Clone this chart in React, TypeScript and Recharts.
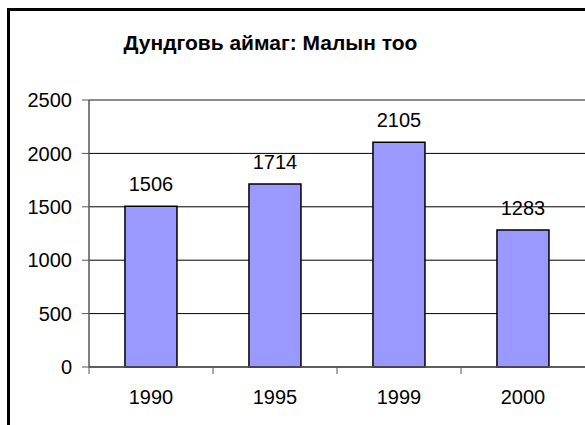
import React from 'react';
import { BarChart, Bar, XAxis, YAxis, CartesianGrid, LabelList, ReferenceLine } from 'recharts';

const categories = ['1990', '1995', '1999', '2000'];
const values = [1506, 1714, 2105, 1283];
const yTicks = [0, 500, 1000, 1500, 2000, 2500];
const title = 'Дундговь аймаг: Малын тоо';

const data = categories.map((c, i) => ({ year: c, value: values[i] }));

const FONT = 'Arial, "Liberation Sans", sans-serif';

const XTick = (props: any) => {
  const { x, y, payload, width, visibleTicksCount } = props;
  let half = payload && typeof payload.offset === 'number' && payload.offset > 0 ? payload.offset : 0;
  if (!half && width && visibleTicksCount) half = width / visibleTicksCount / 2;
  if (!half) half = 62;
  return (
    <g>
      <line x1={x - half} x2={x - half} y1={y} y2={y + 7} stroke="#555" strokeWidth={1} />
      <text x={x} y={y + 30} textAnchor="middle" dominantBaseline="central" fill="#000" fontSize={20} fontFamily={FONT}>
        {payload.value}
      </text>
    </g>
  );
};

export default function App() {
  return (
    <div style={{ position: 'fixed', left: 0, top: 0, width: 585, height: 425, overflow: 'hidden', background: '#fff' }}>
      <div style={{ position: 'absolute', left: 7, top: 8, width: 700, height: 600, border: '3px solid #000', boxSizing: 'border-box' }} />
      <div style={{ position: 'absolute', left: 0, top: 32, width: 541, textAlign: 'center', fontFamily: FONT, fontWeight: 'bold', fontSize: 21, lineHeight: '22px', color: '#000' }}>
        {title}
      </div>
      <div style={{ position: 'absolute', left: 0, top: 0 }}>
        <BarChart width={585} height={425} data={data} margin={{ top: 100, right: 0, left: 0, bottom: 28 }} barCategoryGap="29%">
          <CartesianGrid vertical={false} stroke="#000" strokeWidth={1} />
          <ReferenceLine y={2500} stroke="#999" strokeWidth={1} />
          <XAxis dataKey="year" height={30} tickSize={0} tickMargin={0} tickLine={false} axisLine={{ stroke: '#555', strokeWidth: 1.5 }} tick={<XTick />} interval={0} />
          <YAxis width={89} domain={[0, 2500]} ticks={yTicks} tickSize={7} tickMargin={10} axisLine={{ stroke: '#555', strokeWidth: 1.5 }} tickLine={{ stroke: '#555' }} tick={{ fill: '#000', fontSize: 20, fontFamily: FONT }} interval={0} />
          <Bar dataKey="value" fill="#9999FF" stroke="#000" strokeWidth={1.5} isAnimationActive={false}>
            <LabelList dataKey="value" position="top" offset={15} fill="#000" fontSize={20} fontFamily={FONT} />
          </Bar>
        </BarChart>
      </div>
    </div>
  );
}
